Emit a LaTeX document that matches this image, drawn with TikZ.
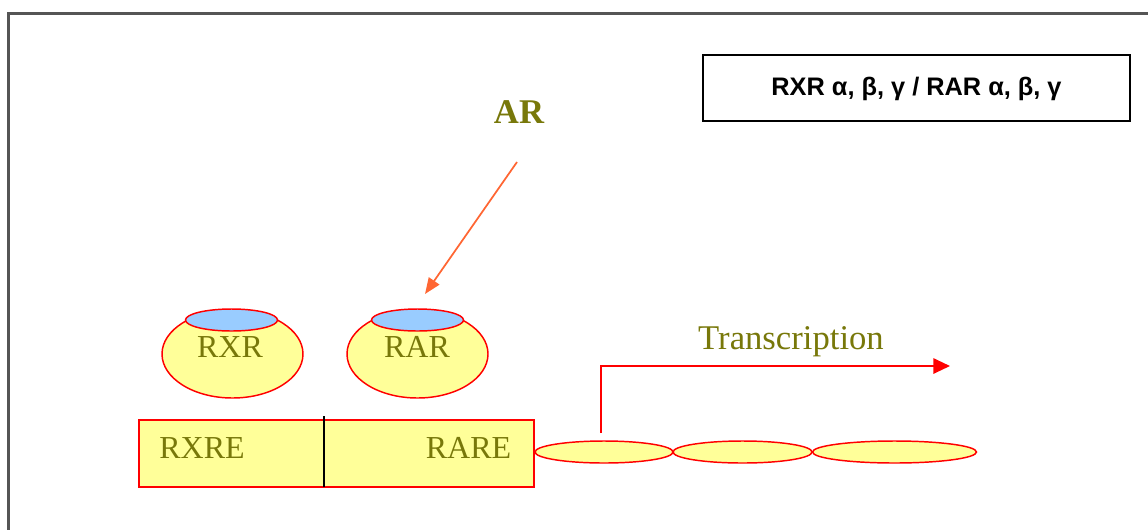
\documentclass[tikz,border=0pt]{standalone}
\usepackage{fontspec}
\setmainfont{Liberation Serif}
\newfontfamily\boxfont{Liberation Sans}
\usetikzlibrary{shapes.geometric,arrows.meta}

\definecolor{labelolive}{RGB}{120,120,10}
\definecolor{bodyyellow}{RGB}{255,255,153}
\definecolor{capblue}{RGB}{153,204,255}
\definecolor{arorange}{RGB}{255,102,51}
\definecolor{framegray}{RGB}{85,85,85}

\tikzset{every picture/.style={line width=0.75pt}}
\tikzset{
  receptorbody/.style={ellipse, draw=red, fill=bodyyellow, line width=1.1pt, minimum width=105.75pt, minimum height=66pt, inner sep=0pt},
  receptorcap/.style={ellipse, draw=red, fill=capblue, line width=1.1pt, minimum width=69pt, minimum height=16.5pt, inner sep=0pt},
  dnaloop/.style={ellipse, draw=red, fill=bodyyellow, line width=1.1pt, minimum height=16.5pt, inner sep=0pt},
  olivelabel/.style={text=labelolive, inner sep=0.75pt, font=\fontsize{24}{28}\selectfont},
}

\begin{document}
\begin{tikzpicture}[x=0.75pt,y=0.75pt,yscale=-1,xscale=1]
\useasboundingbox (0,0) rectangle (1148,529);

%Frame
\draw [framegray, line width=1.9pt] (8.5,540) -- (8.5,13.5) -- (1160,13.5) ;

%Shape: Rectangle [id:receptor list]
\node [draw=black, line width=1.5pt, minimum width=320.25pt, minimum height=49.5pt, inner sep=0pt] (isobox) at (916.5,88) {};
\node [inner sep=0.75pt, font=\boxfont\bfseries\fontsize{19}{23}\selectfont] (isotext) at (916.5,89) {RXR α, β, γ / RAR α, β, γ};

%Shape: Ellipse [id:RXR]
\node [receptorbody] (rxr) at (232.5,354) {};
\node [receptorcap] (rxrcap) at (231.5,320) {};
%Shape: Ellipse [id:RAR]
\node [receptorbody] (rar) at (417.5,354) {};
\node [receptorcap] (rarcap) at (417.5,320) {};

%Shape: Rectangle [id:response elements]
\node [draw=red, fill=bodyyellow, line width=1.1pt, minimum width=296.25pt, minimum height=50.25pt, inner sep=0pt] (hre) at (336.5,453.5) {};
\draw [black, line width=1.3pt] (324,416) -- (324,487) ;

%Shape: Ellipse [id:dna loops]
\node [dnaloop, minimum width=103.5pt] (dna1) at (604,452) {};
\node [dnaloop, minimum width=104.25pt] (dna2) at (742.5,452) {};
\node [dnaloop, minimum width=123pt] (dna3) at (894.5,452) {};

% Text Node
\node [olivelabel, font=\bfseries\fontsize{26}{30}\selectfont] (ar) at (519,112) {AR};
% Text Node
\node [olivelabel] (rxrtext) at (230,347) {RXR};
% Text Node
\node [olivelabel] (rartext) at (417,347) {RAR};
% Text Node
\node [olivelabel] (rxretext) at (202,448) {RXRE};
% Text Node
\node [olivelabel] (raretext) at (468.5,448) {RARE};
% Text Node
\node [olivelabel, anchor=base, font=\fontsize{26}{30}\selectfont] (trtext) at (791,349) {Transcription};

%Straight Lines [id:AR arrow]
\coordinate (arstart) at (517,162) ;
\coordinate (arend) at (425,294) ;
\draw [arorange, line width=1.3pt, -{Triangle[length=12pt,width=9.5pt]}] (arstart) -- (arend) ;

%Straight Lines [id:transcription arrow]
\coordinate (trstart) at (601,433) ;
\coordinate (trend) at (950,366) ;
\draw [red, line width=1.5pt, -{Triangle[length=12.5pt,width=11.5pt]}] (trstart) |- (trend) ;

\end{tikzpicture}
\end{document}
